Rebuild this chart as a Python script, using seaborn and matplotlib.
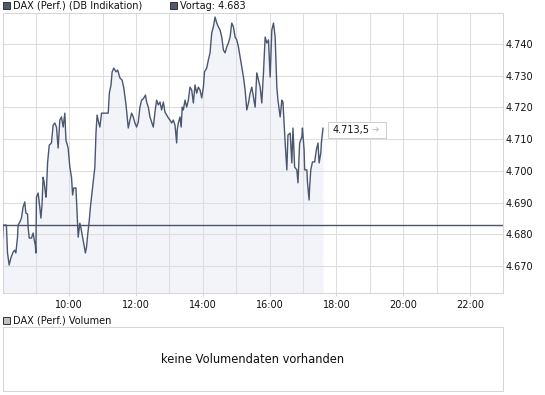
import numpy as np
import pandas as pd
import matplotlib
matplotlib.use("Agg")
import matplotlib.pyplot as plt
import seaborn as sns
from matplotlib.patches import Rectangle
from matplotlib.ticker import FixedLocator, MultipleLocator, FuncFormatter
from matplotlib.transforms import Affine2D, ScaledTranslation

# ---------------- data ----------------
minutes_after_8 = [0, 1, 7, 9, 12, 15, 19, 22, 24, 27,
                   28, 31, 34, 37, 40, 42, 45, 46, 48, 52,
                   55, 57, 59, 60, 61, 64, 67, 69, 71, 73,
                   75, 78, 79, 81, 84, 88, 91, 94, 97, 100,
                   103, 106, 109, 112, 114, 118, 121, 124, 126, 128,
                   132, 134, 136, 139, 141, 144, 146, 149, 151, 153,
                   156, 158, 162, 166, 168, 170, 173, 175, 178, 190,
                   192, 195, 197, 200, 204, 207, 211, 215, 218, 222,
                   226, 229, 232, 235, 238, 241, 244, 247, 250, 253,
                   257, 259, 262, 265, 268, 271, 274, 277, 280, 283,
                   286, 289, 292, 295, 298, 301, 304, 307, 310, 313,
                   314, 316, 319, 321, 323, 325, 328, 331, 334, 337,
                   340, 343, 346, 349, 352, 355, 358, 361, 363, 367,
                   370, 373, 376, 379, 382, 385, 388, 391, 394, 397,
                   400, 403, 406, 409, 412, 415, 418, 421, 424, 427,
                   430, 433, 436, 439, 442, 445, 448, 451, 454, 457,
                   460, 463, 466, 469, 472, 475, 478, 481, 484, 487,
                   490, 493, 495, 499, 502, 504, 508, 511, 513, 517,
                   520, 522, 525, 529, 531, 534, 538, 539, 542, 543,
                   547, 548, 551, 552, 554, 557, 561, 564, 567, 569,
                   572, 573, 576]

prices = [4.6785, 4.6829, 4.6829, 4.6741, 4.6703, 4.6725, 4.6744, 4.6750, 4.6741, 4.6791,
          4.6829, 4.6838, 4.6851, 4.6886, 4.6902, 4.6867, 4.6864, 4.6823, 4.6788, 4.6788,
          4.6804, 4.6782, 4.6766, 4.6741, 4.6917, 4.6930, 4.6886, 4.6851, 4.6892, 4.6980,
          4.6962, 4.6917, 4.6939, 4.7025, 4.7081, 4.7088, 4.7144, 4.7151, 4.7138, 4.7072,
          4.7160, 4.7170, 4.7138, 4.7182, 4.7097, 4.7072, 4.7012, 4.6980, 4.6924, 4.6946,
          4.6946, 4.6867, 4.6791, 4.6835, 4.6820, 4.6791, 4.6772, 4.6741, 4.6760, 4.6797,
          4.6845, 4.6886, 4.6949, 4.7012, 4.7119, 4.7176, 4.7151, 4.7138, 4.7182, 4.7182,
          4.7245, 4.7271, 4.7312, 4.7324, 4.7312, 4.7318, 4.7293, 4.7286, 4.7261, 4.7208,
          4.7135, 4.7160, 4.7182, 4.7170, 4.7151, 4.7138, 4.7154, 4.7201, 4.7223, 4.7227,
          4.7239, 4.7217, 4.7201, 4.7170, 4.7154, 4.7138, 4.7185, 4.7223, 4.7208, 4.7217,
          4.7192, 4.7217, 4.7185, 4.7176, 4.7167, 4.7160, 4.7151, 4.7160, 4.7144, 4.7088,
          4.7129, 4.7151, 4.7170, 4.7138, 4.7201, 4.7192, 4.7223, 4.7201, 4.7223, 4.7264,
          4.7255, 4.7214, 4.7271, 4.7245, 4.7264, 4.7255, 4.7230, 4.7264, 4.7312, 4.7324,
          4.7350, 4.7372, 4.7435, 4.7454, 4.7485, 4.7466, 4.7454, 4.7444, 4.7422, 4.7381,
          4.7372, 4.7391, 4.7403, 4.7422, 4.7466, 4.7454, 4.7422, 4.7413, 4.7391, 4.7359,
          4.7327, 4.7296, 4.7255, 4.7192, 4.7214, 4.7245, 4.7264, 4.7233, 4.7201, 4.7309,
          4.7286, 4.7264, 4.7214, 4.7309, 4.7422, 4.7403, 4.7413, 4.7296, 4.7444, 4.7466,
          4.7422, 4.7264, 4.7223, 4.7170, 4.7223, 4.7217, 4.7088, 4.7003, 4.7113, 4.7119,
          4.7025, 4.7135, 4.7012, 4.7003, 4.6962, 4.7088, 4.7107, 4.7135, 4.7066, 4.7003,
          4.7003, 4.6965, 4.6908, 4.6949, 4.7003, 4.7028, 4.7028, 4.7066, 4.7088, 4.7025,
          4.7056, 4.7088, 4.7135]

prev_close = 4.683
last_label = "4.713,5"
x_tick_hours = [10, 12, 14, 16, 18, 20, 22]
y_tick_values = [4.670, 4.680, 4.690, 4.700, 4.710, 4.720, 4.730, 4.740]
title_main = "DAX (Perf.) (DB Indikation)"
title_prev = "Vortag: 4.683"
title_volume = "DAX (Perf.) Volumen"
no_volume_text = "keine Volumendaten vorhanden"

# ---------------- styling ----------------
sns.set_theme(style="white")
plt.rcParams["font.family"] = ["DejaVu Sans"]

LINE = "#4b566f"
FILL = "#f3f4fa"
GRID = "#dedede"
SPINE = "#d6d6d6"
TEXT = "#111111"

W, H = 545, 395
fig = plt.figure(figsize=(W / 100, H / 100), dpi=100)
fig.patch.set_facecolor("white")


def fx(px):
    return px / W


def fy(py):
    return 1 - py / H


df = pd.DataFrame({"hour": 8 + np.array(minutes_after_8) / 60.0, "price": prices})

y_lo, y_hi = 4.66139, 4.74968
ax = fig.add_axes([fx(2.5), fy(293.3), (503.3 - 2.5) / W, (293.3 - 13.3) / H])
ax.set_facecolor("white")
ax.fill_between(df["hour"], df["price"], y_lo, color=FILL, lw=0, zorder=0.2)
sns.lineplot(data=df, x="hour", y="price", ax=ax, color=LINE, lw=1.0,
             zorder=3, estimator=None, sort=False)
ax.axhline(prev_close, color="#4d5368", lw=1.0, zorder=4)

ax.set_xlim(8, 23)
ax.set_ylim(y_lo, y_hi)
ax.set_xlabel("")
ax.set_ylabel("")
ax.xaxis.set_major_locator(FixedLocator(x_tick_hours))
ax.xaxis.set_minor_locator(MultipleLocator(1))
ax.xaxis.set_major_formatter(FuncFormatter(lambda v, p: f"{int(v):02d}:00"))
ax.yaxis.set_major_locator(FixedLocator(y_tick_values))
ax.yaxis.set_major_formatter(FuncFormatter(lambda v, p: f"{v:.3f}"))
ax.yaxis.tick_right()
ax.set_axisbelow(True)
ax.grid(True, which="both", color=GRID, lw=0.75)
ax.tick_params(axis="x", which="major", length=2.3, width=0.75, color=SPINE,
               labelsize=7, labelcolor=TEXT, pad=2.5, bottom=True)
ax.tick_params(axis="x", which="minor", length=0, bottom=False)
ax.tick_params(axis="y", which="major", length=0, labelsize=7,
               labelcolor=TEXT, pad=1.8, right=True, left=False)
for s in ax.spines.values():
    s.set_color(SPINE)
    s.set_linewidth(0.75)
    s.set_visible(True)

# last price label box, placed in pixel offsets from the last data point
last_h = df["hour"].iloc[-1]
last_p = df["price"].iloc[-1]
T = Affine2D() + ScaledTranslation(last_h, last_p, ax.transData)
box = Rectangle((4.7, -10.3), 58, 16.6, transform=T, facecolor="white",
                edgecolor="#d0d0d0", lw=0.75, zorder=6, clip_on=False)
ax.add_artist(box)
ax.text(9.4, -2.0, last_label, transform=T, fontsize=7, color=TEXT,
        va="center", ha="left", zorder=7, clip_on=False)
ax.text(48.5, -2.0, "➔", transform=T, fontsize=6.5, color="#c4c4c4",
        va="center", ha="left", zorder=7, clip_on=False)

# top legend
def legend_square(x0, y0, size, face):
    fig.add_artist(Rectangle((fx(x0), fy(y0 + size)), size / W, size / H,
                             transform=fig.transFigure, facecolor=face,
                             edgecolor="#333333", lw=0.7))

legend_square(2.5, 2.0, 7, "#4f5a72")
fig.text(fx(13.3), fy(5.8), title_main, fontsize=7, color=TEXT, va="center", ha="left")
legend_square(170, 2.0, 7, "#4f5a72")
fig.text(fx(180), fy(5.8), title_prev, fontsize=7, color=TEXT, va="center", ha="left")

# volume panel
legend_square(3.0, 316.5, 7, "#c0c0c0")
fig.text(fx(13.2), fy(320.2), title_volume, fontsize=7, color=TEXT, va="center", ha="left")

ax2 = fig.add_axes([fx(2.5), fy(390.6), (503.3 - 2.5) / W, (390.6 - 327.2) / H])
ax2.set_facecolor("white")
ax2.set_xticks([])
ax2.set_yticks([])
for s in ax2.spines.values():
    s.set_color(SPINE)
    s.set_linewidth(0.75)
    s.set_visible(True)
ax2.text(0.5, 0.49, no_volume_text, transform=ax2.transAxes, fontsize=8.3,
         color=TEXT, ha="center", va="center")

fig.savefig("out.png", dpi=100, facecolor="white")
